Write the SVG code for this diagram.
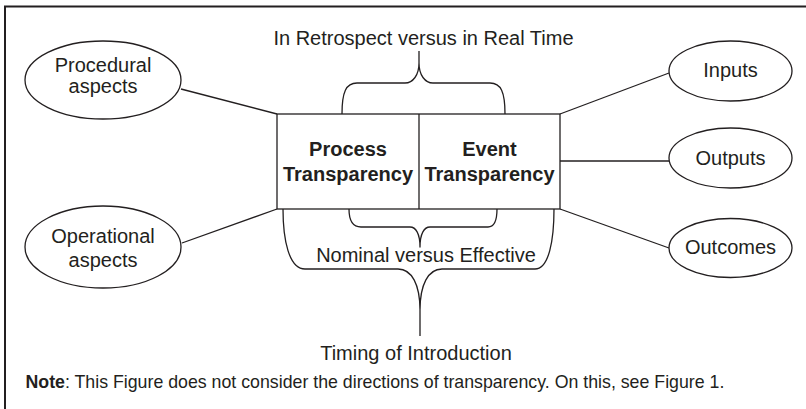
<svg xmlns="http://www.w3.org/2000/svg" width="806" height="409" viewBox="0 0 806 409">
  <style>
    text { font-family: "Liberation Sans", Arial, Helvetica, sans-serif; fill: #231f20; }
    .lbl { font-size: 20px; text-anchor: middle; }
    .bold { font-weight: bold; }
    .shape { fill: #ffffff; stroke: #231f20; stroke-width: 1.3; }
    .line { fill: none; stroke: #231f20; stroke-width: 1.3; }
    .brace { fill: none; stroke: #231f20; stroke-width: 1.3; stroke-linejoin: round; }
  </style>

  <rect width="806" height="409" fill="#ffffff"/>
  <!-- frame: only top and left edges fall inside the canvas -->
  <path d="M5,409 L5,6.5 L806,6.5" fill="none" stroke="#231f20" stroke-width="2"/>

  <g id="connectors">
    <line class="line" x1="181" y1="89" x2="277" y2="114"/>
    <line class="line" x1="182" y1="243" x2="277" y2="209"/>
    <line class="line" x1="560" y1="114" x2="669" y2="73"/>
    <line class="line" x1="560" y1="161" x2="669" y2="161"/>
    <line class="line" x1="560" y1="209" x2="669" y2="248"/>
  </g>

  <g id="braces">
    <!-- top brace -->
    <path class="brace" d="M342,114 C342,92 346,83 357,83 L405,83 C413,83 419,75 419,63 L419,51 M419,63 C419,75 425,83 433,83 L490,83 C501,83 505,92 505,114"/>
    <!-- inner bottom brace -->
    <path class="brace" d="M349,209 C349,220 352,227 361,227 L410,227 C416,227 420,234 420,247 C420,234 424,227 430,227 L488,227 C494,227 497,220 497,209"/>
    <!-- outer bottom brace -->
    <path class="brace" d="M283,209 C283,240 289,269 305,269 L398,269 C412,269 420,285 420,310 L420,336 M420,310 C420,285 428,269 442,269 L535,269 C549,269 554,240 554,209"/>
  </g>

  <g id="transparency-box">
    <rect class="shape" x="277" y="114" width="283" height="95"/>
    <line class="line" x1="419" y1="114" x2="419" y2="209"/>
    <text class="lbl bold" x="348" y="156">Process</text>
    <text class="lbl bold" x="348" y="181">Transparency</text>
    <text class="lbl bold" x="489.5" y="156">Event</text>
    <text class="lbl bold" x="489.5" y="181">Transparency</text>
  </g>

  <g id="procedural">
    <ellipse class="shape" cx="103" cy="80" rx="78" ry="39"/>
    <text class="lbl" x="103" y="72">Procedural</text>
    <text class="lbl" x="103" y="93">aspects</text>
  </g>

  <g id="operational">
    <ellipse class="shape" cx="103" cy="247" rx="78" ry="41"/>
    <text class="lbl" x="103" y="243">Operational</text>
    <text class="lbl" x="103" y="267">aspects</text>
  </g>

  <g id="inputs">
    <ellipse class="shape" cx="730.5" cy="71" rx="61.5" ry="30"/>
    <text class="lbl" x="730.5" y="77">Inputs</text>
  </g>

  <g id="outputs">
    <ellipse class="shape" cx="730.5" cy="158" rx="61.5" ry="30"/>
    <text class="lbl" x="730.5" y="164.5">Outputs</text>
  </g>

  <g id="outcomes">
    <ellipse class="shape" cx="730.5" cy="248" rx="61.5" ry="29.5"/>
    <text class="lbl" x="730.5" y="254">Outcomes</text>
  </g>

  <g id="labels">
    <text class="lbl" x="423.5" y="45">In Retrospect versus in Real Time</text>
    <text class="lbl" x="426" y="262">Nominal versus Effective</text>
    <text class="lbl" x="416" y="360">Timing of Introduction</text>
  </g>

  <text x="25.5" y="388" font-size="17.75"><tspan font-weight="bold">Note</tspan>: This Figure does not consider the directions of transparency. On this, see Figure 1.</text>
</svg>
